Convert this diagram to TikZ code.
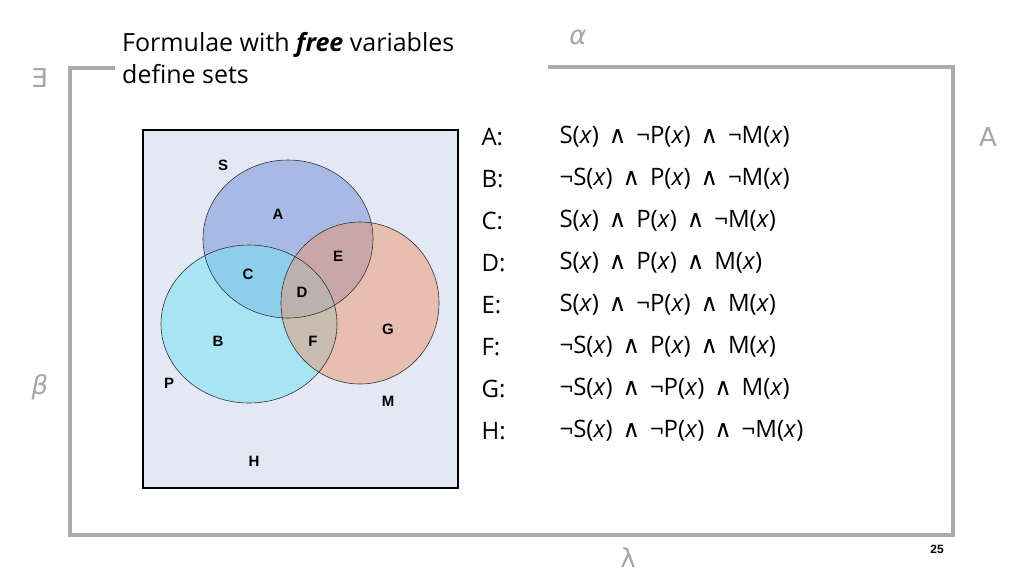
\documentclass[tikz,border=0pt]{standalone}
\usepackage{fontspec}
\setmainfont{Open Sans}
\newfontfamily\symf{DejaVu Sans}
\newfontfamily\arialf{Liberation Sans}
\newcommand{\wedgeop}{\hspace{0.15em}{\symf\char"2227}\hspace{0.15em}}
\newcommand{\vx}{\textit{x}}
\tikzset{
  region/.style={font=\arialf\bfseries\fontsize{15}{18}\selectfont},
  formula/.style={anchor=west,font=\fontsize{24}{28}\selectfont},
  greek/.style={text=black!35,font=\symf\fontsize{26}{30}\selectfont}
}
\begin{document}
\begin{tikzpicture}[x=1pt,y=-1pt]
    \useasboundingbox (0,0) rectangle (1024,576);
    \fill[white] (0,0) rectangle (1024,576);
    %% slide frame
    \draw[black!33,line width=4] (115,68) -- (70,68) -- (70,535) -- (953,535) -- (953,67) -- (548,67);
    \node[greek] (exists) at (40,78) {\reflectbox{E}};
    \node[greek,font=\symf\itshape\fontsize{26}{30}\selectfont] (alpha) at (578,37) {α};
    \node[greek,rotate=180] (forall) at (988,137) {∀};
    \node[greek,font=\symf\itshape\fontsize{26}{30}\selectfont] (beta) at (40,387) {β};
    \node[greek] (lambda) at (628,558) {λ};
    \node[font=\arialf\bfseries\fontsize{12}{14}\selectfont] (page) at (937,549) {25};
    %% title
    \node[anchor=north west,align=left,inner sep=0,font=\fontsize{25}{32}\selectfont] (title) at (122,32) {Formulae with \textbf{\textit{free}} variables\\define sets};
    %% venn diagram
    \draw[line width=1.5,fill={rgb,255:red,227;green,232;blue,244}] (143,130) rectangle (458,488);
    \fill[fill={rgb,255:red,110;green,140;blue,215},fill opacity=0.5] (288,239) ellipse (85 and 79);
    \fill[fill={rgb,255:red,120;green,225;blue,245},fill opacity=0.55] (249,324) ellipse (88 and 79);
    \fill[fill={rgb,255:red,235;green,150;blue,110},fill opacity=0.5] (360,303) ellipse (79 and 81);
    \draw[black!80,line width=0.6] (288,239) ellipse (85 and 79);
    \draw[black!80,line width=0.6] (249,324) ellipse (88 and 79);
    \draw[black!80,line width=0.6] (360,303) ellipse (79 and 81);
    \node[region] (lS) at (223,165) {S};
    \node[region] (lP) at (169,383) {P};
    \node[region] (lM) at (388,401) {M};
    \node[region] (lA) at (278,214) {A};
    \node[region] (lB) at (218,341) {B};
    \node[region] (lC) at (248,274) {C};
    \node[region] (lD) at (302,292) {D};
    \node[region] (lE) at (338,256) {E};
    \node[region] (lF) at (313,341) {F};
    \node[region] (lG) at (388,329) {G};
    \node[region] (lH) at (254,461) {H};
    %% formulae
    \foreach \lab/\fm [count=\i from 0] in {
      A/{S(\vx) \wedgeop\ ¬P(\vx) \wedgeop\ ¬M(\vx)},
      B/{¬S(\vx) \wedgeop\ P(\vx) \wedgeop\ ¬M(\vx)},
      C/{S(\vx) \wedgeop\ P(\vx) \wedgeop\ ¬M(\vx)},
      D/{S(\vx) \wedgeop\ P(\vx) \wedgeop\ M(\vx)},
      E/{S(\vx) \wedgeop\ ¬P(\vx) \wedgeop\ M(\vx)},
      F/{¬S(\vx) \wedgeop\ P(\vx) \wedgeop\ M(\vx)},
      G/{¬S(\vx) \wedgeop\ ¬P(\vx) \wedgeop\ M(\vx)},
      H/{¬S(\vx) \wedgeop\ ¬P(\vx) \wedgeop\ ¬M(\vx)}} {
      \node[formula] (k\lab) at (478,137+42*\i) {\lab:};
      \node[formula] (f\lab) at (556,137+42*\i) {\fm};
    }
\end{tikzpicture}
\end{document}
